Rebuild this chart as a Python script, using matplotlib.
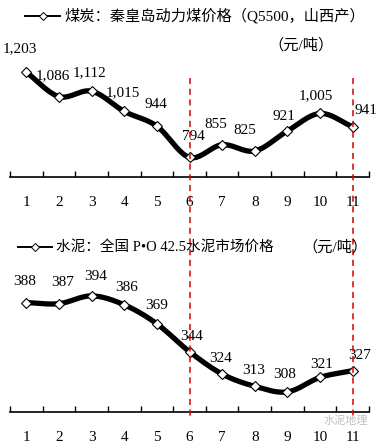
import numpy as np
import matplotlib.pyplot as plt
from matplotlib.lines import Line2D

plt.rcParams['font.family'] = ['Liberation Serif', 'Noto Sans CJK SC']

months = list(range(1, 12))
coal_price = [1203, 1086, 1112, 1015, 944, 794, 855, 825, 921, 1005, 941]
cement_price = [388, 387, 394, 386, 369, 344, 324, 313, 308, 321, 327]
coal_labels = ["1,203", "1,086", "1,112", "1,015", "944", "794", "855", "825", "921", "1,005", "941"]
cement_labels = [str(v) for v in cement_price]
coal_title = "煤炭：秦皇岛动力煤价格（Q5500，山西产）"
cement_title = "水泥：全国 P•O 42.5水泥市场价格"
unit = "（元/吨）"
highlight = [6, 11]

# label offsets in pixels (dx, dy)
coal_off = [(-6, 24), (-6, 21), (-2, 18), (-1, 19), (-1, 22), (4, 21), (-6, 20), (-10, 20), (-3, 14), (-4, 18), (13, 16)]
cement_off = [(-2, 21), (4, 21), (4, 19), (2, 17), (0, 18), (2, 15), (-2, 16), (-1, 16), (-3, 17), (2, 13), (7, 15)]

W, H = 376, 447
fig = plt.figure(figsize=(W / 100, H / 100), dpi=100)


def smooth(x, y, n=20):
    # cubic hermite with catmull-rom tangents, like excel's smoothed line
    x = np.asarray(x, float)
    y = np.asarray(y, float)
    m = np.zeros_like(y)
    m[1:-1] = (y[2:] - y[:-2]) / 2
    m[0] = y[1] - y[0]
    m[-1] = y[-1] - y[-2]
    xs, ys = [], []
    for i in range(len(x) - 1):
        t = np.linspace(0, 1, n, endpoint=False)
        h00 = 2 * t**3 - 3 * t**2 + 1
        h10 = t**3 - 2 * t**2 + t
        h01 = -2 * t**3 + 3 * t**2
        h11 = t**3 - t**2
        xs.append(x[i] + t * (x[i + 1] - x[i]))
        ys.append(h00 * y[i] + h10 * m[i] + h01 * y[i + 1] + h11 * m[i + 1])
    xs.append([x[-1]])
    ys.append([y[-1]])
    return np.concatenate(xs), np.concatenate(ys)


def panel(top_px, bottom_px, ylim, values, labels, offsets):
    ax = fig.add_axes([10 / W, 1 - bottom_px / H, 359 / W, (bottom_px - top_px) / H])
    ax.set_xlim(0.5, 11.5)
    ax.set_ylim(*ylim)
    for s in ["top", "right", "left"]:
        ax.spines[s].set_visible(False)
    ax.spines["bottom"].set_linewidth(1.2)
    ax.set_yticks([])
    ax.set_xticks(np.arange(0.5, 12, 1))
    ax.set_xticklabels([])
    ax.tick_params(axis="x", which="major", direction="in", length=4, width=1)
    ax.set_xticks(months, minor=True)
    ax.set_xticklabels([str(m) for m in months], minor=True, fontsize=11)
    ax.tick_params(axis="x", which="minor", length=0, pad=14)
    sx, sy = smooth(months, values)
    ax.plot(sx, sy, color="black", lw=3.8, solid_capstyle="round", zorder=2)
    ax.plot(months, values, ls="none", marker="D", ms=5.5, mfc="white", mec="black", mew=0.8, zorder=3)
    for m, v, lab, (dx, dy) in zip(months, values, labels, offsets):
        ax.annotate(lab, (m, v), xytext=(dx, dy), textcoords="offset pixels",
                    ha="center", va="center", fontsize=11, color="black")
    return ax


panel(52, 177, (700, 1300), coal_price, coal_labels, coal_off)
panel(278, 412, (290, 410), cement_price, cement_labels, cement_off)

# red dashed marker lines at month 6 and 11
for m in highlight:
    xp = (10 + (m - 0.5) * 359 / 11) / W
    fig.add_artist(Line2D([xp, xp], [1 - 78 / H, 1 - 418 / H], color="#d40000", lw=1.1, ls=(0, (4, 3))))


# legend-like titles
def legend_title(x0, x1, y, text, size):
    yf = 1 - y / H
    fig.add_artist(Line2D([x0 / W, x1 / W], [yf, yf], color="black", lw=1.4))
    fig.add_artist(Line2D([(x0 + x1) / 2 / W], [yf], marker="D", ms=4, mfc="white", mec="black", mew=0.7))
    fig.text((x1 + 4) / W, yf, text, fontsize=size, ha="left", va="center")


legend_title(25, 60, 16, coal_title, 11)
fig.text(268 / W, 1 - 45 / H, unit, fontsize=11, ha="left", va="center")
legend_title(18, 52, 247, cement_title, 10.5)
fig.text(302 / W, 1 - 247 / H, unit, fontsize=11, ha="left", va="center")

# faint watermark, kept between the axis line and the tick labels
fig.text(368 / W, 1 - 421 / H, "水泥地理", fontsize=8, ha="right", va="center", color="#c0c0c0")

fig.savefig("out.png", dpi=100)
